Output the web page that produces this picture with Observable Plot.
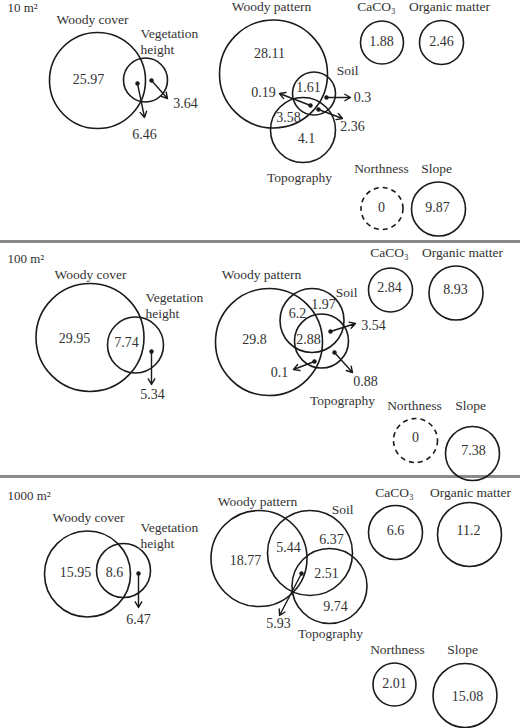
<!DOCTYPE html>
<html><head><meta charset="utf-8">
<script src="https://cdn.jsdelivr.net/npm/d3@7"></script>
<script src="https://cdn.jsdelivr.net/npm/@observablehq/plot@0.6"></script>
<style>body{margin:0;background:#fff} #chart svg{display:block}</style>
</head><body><div id="chart"></div>
<script>
// ---- data ----
const panelTitles = ["10 m²", "100 m²", "1000 m²"];
const setNames = ["Woody cover", "Vegetation height", "Woody pattern", "Soil", "Topography", "CaCO₃", "Organic matter", "Northness", "Slope"];
const values10 = [25.97, 6.46, 3.64, 28.11, 1.61, 0.19, 0.3, 3.58, 2.36, 4.1, 1.88, 2.46, 0, 9.87];
const values100 = [29.95, 7.74, 5.34, 29.8, 6.2, 1.97, 2.88, 3.54, 0.1, 0.88, 2.84, 8.93, 0, 7.38];
const values1000 = [15.95, 8.6, 6.47, 18.77, 5.44, 6.37, 2.51, 5.93, 9.74, 6.6, 11.2, 2.01, 15.08];

// ---- layout (pixel positions of the diagram) ----
const separators = [241, 476];
const titleAt = [[7, 7], [7, 258], [7, 495]];
const circleAt10 = [[97,80,48],[145,79.5,22],[273,73.5,54],[313.5,93,21.5],[302.5,129.5,32.5],[381.5,42,21.5],[441,42,22],[381.5,208,21],[438,208.5,27]];
const circleAt100 = [[89.5,337,54],[135,344.5,28],[268.5,341.5,53.5],[311.5,320,32],[321,340.5,27],[390,289.5,22],[455.5,292.5,27],[415,440,22],[472,453,27]];
const circleAt1000 = [[87,573.5,43],[123,570,27],[258.5,558,48],[309.5,552.5,42.5],[329,585.5,37.5],[395,532,27],[469,534,32],[394,684,21.5],[464.5,695,32]];
const nameAt10 = [[92,19],[140,40],[271,6],[347,70],[299,177],[376,6],[449,6],[381,168],[436,168]];
const nameAt100 = [[90,274],[145,304],[261,274],[346,292],[342,400],[389,252],[462,252],[414,405],[470,405]];
const nameAt1000 = [[88,517],[140,534],[257,501],[342,509],[330,633],[394,492],[470,492],[397,649],[462,649]];
const valueAt10 = [[88,79],[144,134,137,83,144,117],[185,103,151,80,167,98],[269,53],[308,87],[263,92,310,105,279,93],[362,97,326,97,350,97],[288,117],[352,126,318,109,342,118],[306,138],[381,41],[441,41],[381,207],[437,207]];
const valueAt100 = [[74,338],[126,342],[152,394,151,351,151,384],[254,339],[297,313],[323,304],[308,339],[373,325,330,331,355,323],[279,372,314,361,293,369],[365,381,334,352,352,372],[389,287],[455,289],[415,437],[473,450]];
const valueAt1000 = [[75,572],[114,572],[138,619,138,573,138,607],[245,560],[288,547],[331,539],[326,573],[278,623,301,573,279,615],[335,606],[395,530],[468,530],[394,683],[467,696]];

// ---- build tables ----
const panels = [
  {values: values10, circles: circleAt10, names: nameAt10, vals: valueAt10},
  {values: values100, circles: circleAt100, names: nameAt100, vals: valueAt100},
  {values: values1000, circles: circleAt1000, names: nameAt1000, vals: valueAt1000}
];
const circles = [], names = [], valueLabels = [], arrows = [], titles = [];
panels.forEach((p, pi) => {
  titles.push({text: panelTitles[pi], x: titleAt[pi][0], y: titleAt[pi][1]});
  const n = p.values.length;
  p.circles.forEach((c, i) => {
    const single = i >= 5 ? p.values[n - 4 + (i - 5)] : null;
    circles.push({set: setNames[i], x: c[0], y: c[1], r: c[2], dashed: single === 0});
  });
  p.names.forEach((a, i) => names.push({text: setNames[i], x: a[0], y: a[1], wrap: i === 1}));
  p.values.forEach((v, i) => {
    const a = p.vals[i];
    valueLabels.push({text: String(v), x: a[0], y: a[1]});
    if (a.length > 2) arrows.push({x1: a[2], y1: a[3], x2: a[4], y2: a[5]});
  });
});

const font = "'Liberation Serif', 'Times New Roman', serif";
const ink = "#1a1a1a", textInk = "#333";

const chart = Plot.plot({
  width: 520, height: 728, margin: 0,
  x: {domain: [0, 520], range: [0, 520], axis: null},
  y: {domain: [0, 728], range: [0, 728], axis: null},
  r: {type: "identity"},
  style: {fontFamily: font, background: "#fff"},
  marks: [
    Plot.ruleY(separators, {y: d => d, stroke: "#8a8a8a", strokeWidth: 3}),
    Plot.dot(circles.filter(d => !d.dashed), {x: "x", y: "y", r: "r", stroke: ink, strokeWidth: 1.6, fill: "none"}),
    Plot.dot(circles.filter(d => d.dashed), {x: "x", y: "y", r: "r", stroke: ink, strokeWidth: 1.6, fill: "none", strokeDasharray: "5,4"}),
    Plot.arrow(arrows, {x1: "x1", y1: "y1", x2: "x2", y2: "y2", stroke: ink, strokeWidth: 1.4, headLength: 7}),
    Plot.dot(arrows, {x: "x1", y: "y1", r: 2.2, fill: ink, stroke: "none"}),
    Plot.text(titles, {x: "x", y: "y", text: "text", textAnchor: "start", fontSize: 13, fill: textInk}),
    Plot.text(names.filter(d => !d.wrap), {x: "x", y: "y", text: "text", fontSize: 13.5, fill: textInk}),
    Plot.text(names.filter(d => d.wrap), {x: "x", y: "y", text: d => d.text.replace(" ", "\n"), textAnchor: "start", lineHeight: 1.2, fontSize: 13.5, fill: textInk}),
    Plot.text(valueLabels, {x: "x", y: "y", text: "text", fontSize: 14, fill: textInk})
  ]
});
document.getElementById("chart").append(chart);
</script>
</body></html>
